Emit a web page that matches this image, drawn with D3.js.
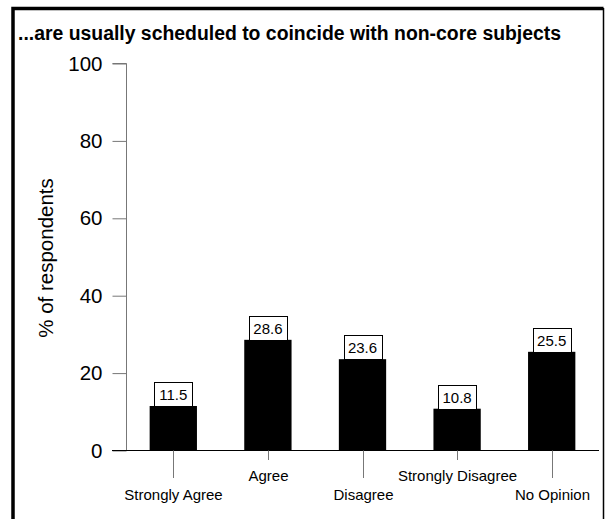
<!DOCTYPE html>
<html>
<head>
<meta charset="utf-8">
<script src="https://cdn.jsdelivr.net/npm/d3@7"></script>
<style>
html,body{margin:0;padding:0;background:#fff;}
svg{display:block;font-family:"Liberation Sans",Arial,sans-serif;}
</style>
</head>
<body>
<svg id="chart" width="605" height="519"></svg>
<script>
const title = "...are usually scheduled to coincide with non-core subjects";
const categories = ["Strongly Agree","Agree","Disagree","Strongly Disagree","No Opinion"];
const values = [11.5, 28.6, 23.6, 10.8, 25.5];
const yTicks = [0, 20, 40, 60, 80, 100];
const yLabel = "% of respondents";

const svg = d3.select("#chart");

// frame
svg.append("path")
  .attr("d", "M13,519 L13,8.5 L603.5,8.5")
  .attr("fill","none").attr("stroke","#000").attr("stroke-width",3.5);
svg.append("line").attr("x1",603.5).attr("x2",603.5).attr("y1",8).attr("y2",519)
  .attr("stroke","#000").attr("stroke-width",1.5);

svg.append("text").attr("x",18).attr("y",40)
  .attr("font-size",19.4).attr("font-weight","bold").attr("fill","#000").text(title);

const x0 = 126, x1 = 599, yBase = 450.5, yTop = 63.5;
const y = d3.scaleLinear().domain([0,100]).range([yBase, yTop]);
const x = d3.scaleBand().domain(categories).range([x0, x1]).paddingInner(0.5).paddingOuter(0.25);

// y axis
const yAxis = svg.append("g").attr("transform",`translate(${x0+0.5},0)`)
  .call(d3.axisLeft(y).tickValues(yTicks).tickSize(14).tickPadding(10).tickFormat(d3.format("d")));
yAxis.select(".domain").attr("stroke","#777").attr("d",`M-14,${yTop}H0V${yBase}`);
yAxis.selectAll(".tick line").attr("stroke","#777");
yAxis.selectAll(".tick text").attr("font-size",20.5).attr("fill","#000")
  .attr("font-family","Liberation Sans, Arial, sans-serif");

svg.append("text")
  .attr("transform",`translate(53,258) rotate(-90)`)
  .attr("text-anchor","middle").attr("font-size",20.5).attr("fill","#000").text(yLabel);

// bars
svg.append("g").selectAll("rect").data(values).join("rect")
  .attr("x",(d,i)=>x(categories[i]))
  .attr("y",d=>y(d))
  .attr("width",x.bandwidth())
  .attr("height",d=>yBase-y(d))
  .attr("fill","#000");

// x baseline
svg.append("line").attr("x1",112).attr("x2",x1).attr("y1",yBase).attr("y2",yBase)
  .attr("stroke","#000").attr("stroke-width",1);

// category ticks and labels
const cx = c => Math.round(x(c)+x.bandwidth()/2)+0.5;
const cat = svg.append("g");
categories.forEach((c,i)=>{
  const long = i%2===0;
  cat.append("line").attr("x1",cx(c)).attr("x2",cx(c))
    .attr("y1",yBase).attr("y2", long ? 478 : 460)
    .attr("stroke","#777");
  cat.append("text").attr("x",cx(c)).attr("y", long ? 500 : 481)
    .attr("text-anchor","middle").attr("font-size",15).attr("fill","#000").text(c);
});

// value labels
const lab = svg.append("g");
values.forEach((v,i)=>{
  const c = categories[i];
  const xc = x(c)+x.bandwidth()/2;
  const top = y(v);
  lab.append("rect").attr("x",Math.round(xc-19)+0.5).attr("y",Math.round(top-24)+0.5)
    .attr("width",38).attr("height",24).attr("fill","#fff").attr("stroke","#000");
  lab.append("text").attr("x",xc).attr("y",top-6)
    .attr("text-anchor","middle").attr("font-size",15).attr("fill","#000").text(d3.format(".1f")(v));
});
</script>
</body>
</html>
